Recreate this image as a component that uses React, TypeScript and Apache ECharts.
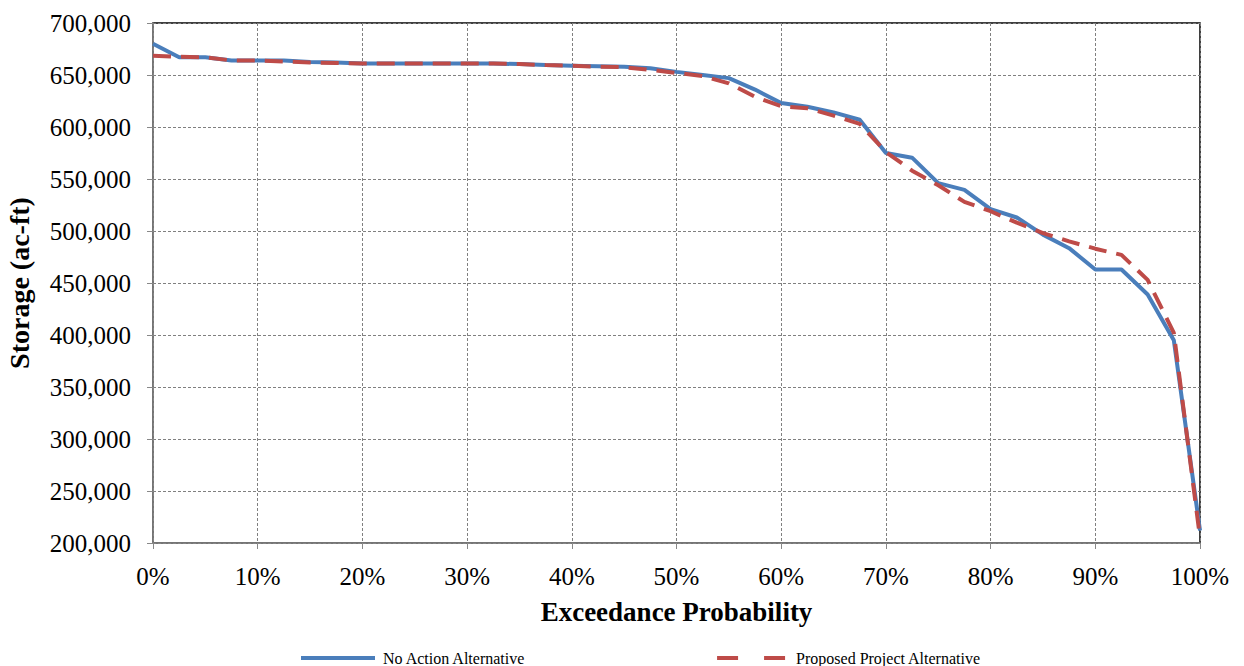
import React, { useEffect, useRef } from "react";
import * as echarts from "echarts";

const probabilities = [
  0, 2.5, 5, 7.5, 10, 12.5, 15, 17.5, 20, 22.5, 25, 27.5, 30, 32.5, 35, 37.5, 40,
  42.5, 45, 47.5, 50, 52.5, 55, 57.5, 60, 62.5, 65, 67.5, 70, 72.5, 75, 77.5, 80,
  82.5, 85, 87.5, 90, 92.5, 95, 97.5, 100,
];

const noActionStorage = [
  680000, 667000, 667000, 664000, 664000, 664000, 662500, 662000, 661000, 661000,
  661000, 661000, 661000, 661000, 660500, 659500, 659000, 658500, 658000, 656500,
  653000, 650000, 647000, 636000, 623000, 619500, 614000, 607000, 575000, 570500,
  546000, 539500, 521000, 513000, 496500, 483500, 463000, 463000, 439000, 395000,
  212000,
];

const proposedStorage = [
  668500, 667500, 667000, 664000, 664000, 663000, 662000, 661500, 661000, 661000,
  661000, 661000, 661000, 661000, 660500, 659500, 659000, 658000, 657500, 655000,
  652000, 649000, 642000, 629000, 620000, 618000, 611000, 603000, 576000, 558000,
  544000, 528000, 519000, 508000, 498000, 490000, 483000, 477000, 453000, 402000,
  205000,
];

const seriesNames = ["No Action Alternative", "Proposed Project Alternative"];
const xTitle = "Exceedance Probability";
const yTitle = "Storage (ac-ft)";

const BLUE = "#4A7EBB";
const RED = "#BE4B48";
const FONT = "'Liberation Serif', 'Times New Roman', serif";

export default function App() {
  const ref = useRef<HTMLDivElement>(null);

  useEffect(() => {
    if (!ref.current) return;
    const chart = echarts.init(ref.current, undefined, { renderer: "svg" });
    const pairs = (vals: number[]) => probabilities.map((p, i) => [p, vals[i]]);
    const gridLine = { show: true, lineStyle: { color: "#808080", width: 1, type: [3, 2] as any } };
    chart.setOption({
      animation: false,
      backgroundColor: "#ffffff",
      textStyle: { fontFamily: FONT },
      grid: {
        left: 153,
        right: 44,
        top: 23,
        bottom: 123,
        outerBoundsMode: "none",
        containLabel: false,
        show: true,
        borderColor: "#000000",
        borderWidth: 1.5,
        backgroundColor: "transparent",
      },
      legend: {
        left: 296,
        top: 645,
        itemWidth: 74,
        itemHeight: 4,
        itemGap: 191,
        textStyle: { fontFamily: FONT, fontSize: 16, color: "#000", padding: [0, 0, 0, 3] },
        data: [
          { name: seriesNames[0], icon: "rect", itemStyle: { color: BLUE } },
          {
            name: seriesNames[1],
            icon: "path://M0,0H21V4H0Z M47,0H68V4H47Z",
            itemStyle: { color: RED },
          },
        ],
      },
      xAxis: {
        type: "value",
        min: 0,
        max: 100,
        interval: 10,
        name: xTitle,
        nameLocation: "middle",
        nameGap: 55,
        nameTextStyle: { fontFamily: FONT, fontSize: 27, fontWeight: "bold", color: "#000" },
        axisLine: { show: true, lineStyle: { color: "#888", width: 1.5 } },
        axisTick: { show: true, length: 6, lineStyle: { color: "#888" } },
        axisLabel: {
          formatter: "{value}%",
          fontFamily: FONT,
          fontSize: 25,
          color: "#000",
          margin: 21,
        },
        splitLine: gridLine,
      },
      yAxis: {
        type: "value",
        min: 200000,
        max: 700000,
        interval: 50000,
        name: yTitle,
        nameLocation: "middle",
        nameGap: 120,
        nameTextStyle: { fontFamily: FONT, fontSize: 28, fontWeight: "bold", color: "#000" },
        axisLine: { show: true, lineStyle: { color: "#888", width: 1.5 } },
        axisTick: { show: true, length: 6, lineStyle: { color: "#888" } },
        axisLabel: {
          formatter: (v: number) => v.toLocaleString("en-US"),
          fontFamily: FONT,
          fontSize: 25,
          color: "#000",
          margin: 22,
        },
        splitLine: gridLine,
      },
      series: [
        {
          name: seriesNames[0],
          type: "line",
          data: pairs(noActionStorage),
          symbol: "none",
          lineStyle: { color: BLUE, width: 4 },
          itemStyle: { color: BLUE },
          z: 2,
        },
        {
          name: seriesNames[1],
          type: "line",
          data: pairs(proposedStorage),
          symbol: "none",
          lineStyle: { color: RED, width: 4, type: [18, 10] as any },
          itemStyle: { color: RED },
          z: 3,
        },
      ],
    });
    return () => chart.dispose();
  }, []);

  return (
    <div
      ref={ref}
      style={{ position: "fixed", left: 0, top: 0, width: 1244, height: 666, background: "#fff" }}
    />
  );
}
